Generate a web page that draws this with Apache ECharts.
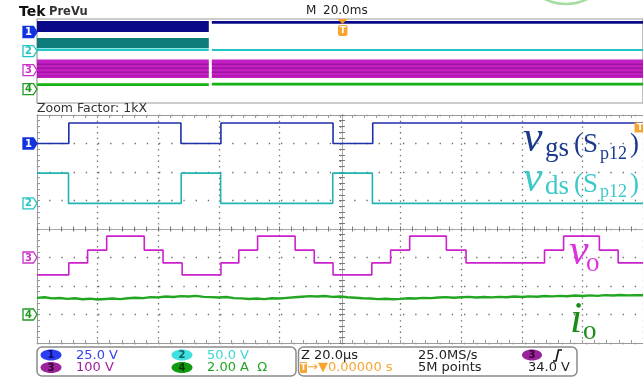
<!DOCTYPE html>
<html><head><meta charset="utf-8">
<script src="https://cdn.jsdelivr.net/npm/echarts@6/dist/echarts.min.js"></script>
<style>html,body{margin:0;padding:0;background:#fff}#c{width:643px;height:377px}</style>
</head><body><div id="c"></div>
<script>
// ---------------- data ----------------
// zoom window: time in microseconds (20 us/div, 10 div)
const timeMin = 0, timeMax = 200, timeDiv = 20;
// channel settings: volts (amps) per division and ground offset in divisions
const chScale  = [25, 50, 100, 2];
const chOffset = [3, 0.9, -1, -3];
const chLabels = ['1', '2', '3', '4'];
const chScaleText = ['25.0 V', '50.0 V', '100 V', '2.00 A  \u03A9'];

// ch1: v_gs (V) — [time us, level] step points
const ch1 = [[0,0],[10.5,18],[47.5,0],[60.7,18],[97.7,0],[110.8,18],[200,18]];
// ch2: v_ds (V)
const ch2 = [[0,53],[10.4,0],[47.6,53],[60.6,0],[97.6,53],[110.7,0],[200,0]];
// ch3: v_o (V)
const ch3 = [[0,-61],[10.5,-19],[16.7,26],[23.0,75],[35.4,26],[41.6,-19],[47.9,-61],[60.7,-19],
  [66.6,26],[72.8,75],[85.2,26],[91.5,-19],[97.7,-61],[110.5,-19],[116.7,26],[123.0,75],
  [135.1,26],[141.6,-19],[167.5,26],[173.8,75],[185.6,26],[191.8,-19],[200,-19]];
// ch4: i_o (A), sampled every 2.5 us
const ch4Step = 2.5;
const ch4 = [1.17,1.21,1.13,1.16,1.10,1.14,1.07,1.11,1.05,1.09,1.12,1.08,1.14,1.18,1.15,1.22,
  1.20,1.26,1.23,1.29,1.26,1.31,1.24,1.22,1.19,1.23,1.15,1.13,1.09,1.12,1.08,1.14,1.12,1.17,
  1.21,1.25,1.29,1.26,1.30,1.24,1.26,1.21,1.18,1.14,1.12,1.08,1.11,1.07,1.10,1.14,1.12,1.17,
  1.15,1.19,1.22,1.18,1.21,1.24,1.19,1.23,1.20,1.24,1.21,1.26,1.23,1.27,1.25,1.30,1.27,1.31,
  1.28,1.33,1.30,1.34,1.31,1.36,1.33,1.37,1.34,1.36,1.35];

// overview (PreVu) record: time in ms (20 ms/div), envelopes in divisions [t0, t1, lo, hi]
const ovCh1 = [[0,56.7,2.76,3.81],[57.7,200,3.55,3.81]];
const ovCh2Env = [[0,56.7,1.24,2.19]];
const ovCh2 = [[0,56.7,0.95,1.19],[57.7,200,0.95,1.14]];
const ovCh3 = [[0,56.7,-1.62,0.14],[57.7,200,-1.62,0.14]];
const ovCh3Stripes = [[0,56.7,-0.34,-0.26],[0,56.7,-0.72,-0.64],[0,56.7,-1.1,-1.02],[0,56.7,-1.46,-1.4],
  [57.7,200,-0.34,-0.26],[57.7,200,-0.72,-0.64],[57.7,200,-1.1,-1.02],[57.7,200,-1.46,-1.4]];
const ovCh4 = [[0,56.7,-2.38,-2.12],[57.7,200,-2.33,-2.08]];
const ovOffset = [2.76, 0.95, -0.86, -2.67];

// ---------------- chart ----------------
const colors = ['#1f2fa8', '#1fb3b3', '#cc22cc', '#22a622'];
const chart = echarts.init(document.getElementById('c'), null, {renderer: 'canvas'});
const grayAxis = '#9a9a9a';

function xAx(extra) {
  return Object.assign({
    type: 'value', gridIndex: 0, min: timeMin, max: timeMax, interval: timeDiv,
    axisLabel: {show: false}, splitLine: {show: false},
    axisLine: {show: true, onZero: false, lineStyle: {color: grayAxis, width: 1}},
    axisTick: {show: true, inside: true, length: 3, lineStyle: {color: grayAxis}},
    minorTick: {show: true, splitNumber: 5, length: 3, lineStyle: {color: grayAxis}}
  }, extra);
}
function yAx(extra) {
  return Object.assign({
    type: 'value', gridIndex: 0, min: -4, max: 4, interval: 1,
    axisLabel: {show: false}, splitLine: {show: false},
    axisLine: {show: true, onZero: false, lineStyle: {color: grayAxis, width: 1}},
    axisTick: {show: true, inside: true, length: 3, lineStyle: {color: grayAxis}},
    minorTick: {show: true, splitNumber: 5, length: 3, lineStyle: {color: grayAxis}}
  }, extra);
}
function chAx(i) {
  return {type: 'value', gridIndex: 0, show: false,
    min: (-4 - chOffset[i]) * chScale[i], max: (4 - chOffset[i]) * chScale[i]};
}
function bandItem(params, api) {
  const p0 = api.coord([api.value(0), api.value(3)]);
  const p1 = api.coord([api.value(1), api.value(2)]);
  return {type: 'rect', shape: {x: p0[0], y: p0[1], width: p1[0] - p0[0], height: p1[1] - p0[1]},
    style: {fill: api.visual('color')}};
}
function band(data, color, z) {
  return {type: 'custom', xAxisIndex: 4, yAxisIndex: 7, renderItem: bandItem, data: data,
    encode: {x: [0, 1], y: [2, 3]}, itemStyle: {color: color}, z: z || 2, silent: true};
}
function stepLine(data, i) {
  return {type: 'line', xAxisIndex: 0, yAxisIndex: 3 + i, data: data, step: 'end',
    showSymbol: false, symbol: 'none', lineStyle: {color: colors[i], width: 1.6}, z: 5, silent: true};
}

const option = {
  animation: false,
  backgroundColor: '#ffffff',
  grid: [
    {left: 37, top: 115, width: 610, height: 228, show: false},
    {left: 37, top: 19, width: 610, height: 84, show: true, borderColor: '#999', borderWidth: 1.2, backgroundColor: 'transparent'}
  ],
  xAxis: [
    xAx({position: 'bottom', splitLine: {show: true, lineStyle: {color: '#6a6a6a', width: 1.3, type: [1.3, 4.4]}}}),
    xAx({position: 'top'}),
    xAx({position: 'bottom', offset: -114, axisLine: {show: true, onZero: false, lineStyle: {color: '#aaa', width: 1}}, axisTick: {show: true, inside: true, length: 2.5, lineStyle: {color: '#777'}}, minorTick: {show: true, splitNumber: 5, length: 2.5, lineStyle: {color: '#777'}}}),
    xAx({position: 'bottom', offset: -114, axisLine: {show: false, onZero: false}, axisTick: {show: true, inside: false, length: 2.5, lineStyle: {color: '#777'}}, minorTick: {show: true, splitNumber: 5, length: 2.5, lineStyle: {color: '#777'}}}),
    {type: 'value', gridIndex: 1, min: 0, max: 200, show: false}
  ],
  yAxis: [
    yAx({position: 'left', splitLine: {show: true, lineStyle: {color: '#6a6a6a', width: 1.3, type: [1.3, 10.9]}}}),
    yAx({position: 'left', offset: -305, axisLine: {show: true, onZero: false, lineStyle: {color: '#aaa', width: 1}}, axisTick: {show: true, inside: true, length: 3, lineStyle: {color: '#777'}}, minorTick: {show: true, splitNumber: 5, length: 3, lineStyle: {color: '#777'}}}),
    yAx({position: 'left', offset: -305, axisLine: {show: false, onZero: false}, axisTick: {show: true, inside: false, length: 3, lineStyle: {color: '#777'}}, minorTick: {show: true, splitNumber: 5, length: 3, lineStyle: {color: '#777'}}}),
    chAx(0), chAx(1), chAx(2), chAx(3),
    {type: 'value', gridIndex: 1, min: -4, max: 4, show: false}
  ],
  series: [
    band(ovCh1, '#0a0a88'),
    band(ovCh2Env, '#0e7b7b'),
    band(ovCh2, '#22c6c6'),
    band(ovCh3, '#c41fc4'),
    band(ovCh3Stripes, '#7a0a7a', 3),
    band(ovCh4, '#14b214'),
    stepLine(ch2, 1),
    stepLine(ch1, 0),
    stepLine(ch3, 2),
    {type: 'line', xAxisIndex: 0, yAxisIndex: 6, data: ch4.map((v, k) => [k * ch4Step, v]),
      showSymbol: false, symbol: 'none', lineStyle: {color: colors[3], width: 2.4}, z: 5, silent: true}
  ]
};
chart.setOption(option);

// ---------------- decorations ----------------
function txt(x, y, s, font, fill, align, va) {
  return {type: 'text', z: 50, style: {x: x, y: y, text: s, font: font, fill: fill,
    align: align || 'left', verticalAlign: va || 'middle', textAlign: align || 'left', textVerticalAlign: va || 'middle'}};
}
const g = [];
const gridLeft = 37;
// channel markers (main plot + overview)
const mkColors = ['#1133dd', '#22c4c4', '#cc33cc', '#229922'];
function marker(tipX, y, i) {
  const filled = i === 0;
  g.push({type: 'polygon', z: 40, shape: {points: [[tipX - 14, y - 5.5], [tipX - 3.5, y - 5.5], [tipX, y], [tipX - 3.5, y + 5.5], [tipX - 14, y + 5.5]]},
    style: {fill: filled ? mkColors[0] : '#fff', stroke: mkColors[i], lineWidth: 1.3}});
  g.push(txt(tipX - 8.5, y + 0.5, chLabels[i], 'bold 10px DejaVu Sans', filled ? '#fff' : mkColors[i], 'center'));
}
for (let i = 0; i < 4; i++) {
  const y = chart.convertToPixel({yAxisIndex: 3 + i}, 0);
  marker(gridLeft, y, i);
  const yo = chart.convertToPixel({yAxisIndex: 7}, ovOffset[i]);
  marker(gridLeft, yo, i);
}
// header texts
g.push(txt(19, 12, 'Tek', 'bold 14px DejaVu Sans', '#111'));
g.push(txt(49, 12.5, 'PreVu', 'bold 11.5px DejaVu Sans', '#333'));
g.push(txt(306, 11, 'M', '12px DejaVu Sans', '#222'));
g.push(txt(323, 11, '20.0ms', '12px DejaVu Sans', '#222'));
g.push(txt(37, 109, 'Zoom Factor: 1kX', '12.5px DejaVu Sans', '#333'));
// overview trigger marker
g.push({type: 'polygon', z: 45, shape: {points: [[337.5, 19], [347.5, 19], [342.5, 24]]}, style: {fill: '#f59a23'}});
g.push({type: 'rect', z: 45, shape: {x: 338, y: 25, width: 9.5, height: 11, r: 2}, style: {fill: '#f7a531'}});
g.push(txt(342.8, 30.5, 'T', 'bold 9px DejaVu Sans', '#fff', 'center'));
// main plot trigger marker at right edge
g.push({type: 'rect', z: 45, shape: {x: 634.5, y: 122.5, width: 10, height: 10, r: 1}, style: {fill: '#f7a531'}});
g.push(txt(640, 127.5, 'T', 'bold 9px DejaVu Sans', '#fff', 'center'));
// green arc at top
g.push({type: 'arc', z: 45, shape: {cx: 566, cy: -43, r: 47}, style: {stroke: '#a4dca4', lineWidth: 2.5, fill: null}});

// annotations (serif)
const serif = 'Liberation Serif';
function ann(parts, color) {
  parts.forEach(p => g.push(txt(p[0], p[1], p[2], p[3] + ' ' + serif, color)));
}
ann([[523, 139, 'v', 'italic 44px'], [545, 149, 'gs', '27px'], [574, 145, '(S', '27px'], [600, 154, 'p12', '18px'], [630, 145, ')', '27px']], '#1b3a8f');
ann([[523, 179, 'v', 'italic 44px'], [545, 187, 'ds', '27px'], [574, 185, '(S', '27px'], [600, 192, 'p12', '18px'], [630, 185, ')', '27px']], '#3cc9c9');
ann([[569, 252, 'v', 'italic 44px'], [586, 264, 'o', '27px']], '#dd33dd');
ann([[570, 320, 'i', 'italic 44px'], [583, 332, 'o', '27px']], '#1a8c1a');

// status boxes
g.push({type: 'rect', z: 30, shape: {x: 37, y: 347, width: 259, height: 29, r: 5}, style: {fill: '#fff', stroke: '#8a8a8a', lineWidth: 1.5}});
g.push({type: 'rect', z: 30, shape: {x: 298.5, y: 347, width: 278.5, height: 29, r: 5}, style: {fill: '#fff', stroke: '#8a8a8a', lineWidth: 1.5}});
const badgeFill = ['#2a3df0', '#3fe0e0', '#9a229a', '#119a11'];
const badgeText = ['#0a0a70', '#0a5a5a', '#300030', '#053805'];
const scaleColor = ['#3344ee', '#3cd6d6', '#a020a0', '#22a522'];
const badgePos = [[51, 355], [182, 355], [51, 367.5], [182, 367.5]];
for (let i = 0; i < 4; i++) {
  const [bx, by] = badgePos[i];
  g.push({type: 'ellipse', z: 35, shape: {cx: bx, cy: by, rx: 10.5, ry: 5.5}, style: {fill: badgeFill[i]}});
  g.push(txt(bx, by + 0.5, chLabels[i], 'bold 10px DejaVu Sans', badgeText[i], 'center'));
  g.push(txt(bx + 25, by + 0.5, chScaleText[i], '13px DejaVu Sans', scaleColor[i]));
}
g.push(txt(301, 355.5, 'Z 20.0\u00B5s', '13px DejaVu Sans', '#222'));
g.push(txt(418, 355.5, '25.0MS/s', '13px DejaVu Sans', '#222'));
g.push(txt(418, 368, '5M points', '13px DejaVu Sans', '#222'));
g.push(txt(570, 368, '34.0 V', '13px DejaVu Sans', '#222', 'right'));
g.push({type: 'ellipse', z: 35, shape: {cx: 532, cy: 355, rx: 10, ry: 5.5}, style: {fill: '#9a229a'}});
g.push(txt(532, 355.5, '3', 'bold 10px DejaVu Sans', '#300030', 'center'));
g.push({type: 'polyline', z: 35, shape: {points: [[553, 361], [556, 361], [558.5, 350], [562, 350]]}, style: {stroke: '#111', lineWidth: 1.6, fill: null}});
g.push({type: 'rect', z: 35, shape: {x: 300, y: 362, width: 7, height: 11, r: 1}, style: {fill: '#f7a531'}});
g.push(txt(303.5, 368, 'T', 'bold 8px DejaVu Sans', '#fff', 'center'));
g.push(txt(307, 368, '\u2192\u25BC0.00000 s', '13px DejaVu Sans', '#f7a531'));

chart.setOption({graphic: {elements: g}});
</script>
</body></html>
